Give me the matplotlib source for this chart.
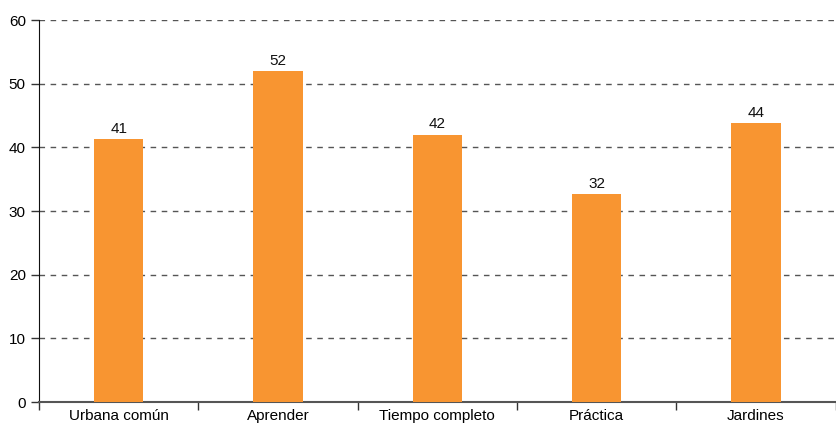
import matplotlib
matplotlib.use("Agg")
import matplotlib.pyplot as plt
import numpy as np

categories = ["Urbana común", "Aprender", "Tiempo completo", "Práctica", "Jardines"]
values = [41.3, 52.0, 42.0, 32.6, 43.8]
labels = ["41", "52", "42", "32", "44"]

plt.rcParams['font.family'] = ['Liberation Sans', 'DejaVu Sans']

fig = plt.figure(figsize=(8.36, 4.23), dpi=100)
ax = fig.add_axes([39/836, 1-402/423, 1-39/836 - 0.5/836, (402-20)/423])

x = np.arange(len(categories))
bars = ax.bar(x, values, width=0.31, color="#F89531", zorder=3)
for xi, v, lab in zip(x, values, labels):
    ax.text(xi, v + 0.5, lab, ha="center", va="bottom", fontsize=11, color="#111111", zorder=4)

ax.set_xlim(-0.5, len(categories) - 0.5)
ax.set_ylim(0, 60)
ax.set_yticks(range(0, 61, 10))
ax.yaxis.grid(True, linestyle=(0, (4, 4)), color="#555555", linewidth=1)
ax.set_axisbelow(True)

ax.set_xticks(x)
ax.set_xticklabels(categories, fontsize=11)
ax.set_xticks(np.arange(-0.5, len(categories) + 0.5, 1), minor=True)
ax.tick_params(axis="x", which="major", length=0, pad=5)
ax.tick_params(axis="x", which="minor", length=6, width=1, color="#333333")
ax.tick_params(axis="y", length=6, width=1, labelsize=11, color="#333333")

for s in ["top", "right"]:
    ax.spines[s].set_visible(False)
ax.spines["left"].set_color("#111111")
ax.spines["bottom"].set_color("#555555")
ax.spines["bottom"].set_linewidth(1.5)

fig.savefig("out.png", dpi=100)
